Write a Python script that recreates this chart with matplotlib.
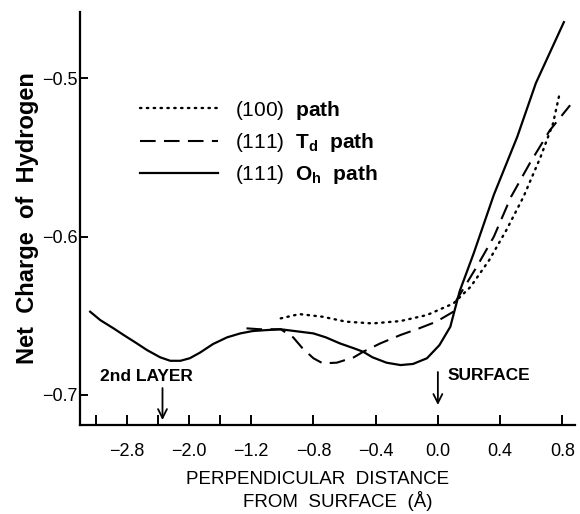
import numpy as np
import matplotlib
matplotlib.use("Agg")
import matplotlib.pyplot as plt

plt.rcParams['font.family'] = ['Liberation Sans', 'DejaVu Sans']
plt.rcParams['mathtext.fontset'] = 'custom'
plt.rcParams['mathtext.rm'] = 'Liberation Sans'
plt.rcParams['mathtext.bf'] = 'Liberation Sans:bold'
plt.rcParams['mathtext.it'] = 'Liberation Sans:italic'

# ---- data (perpendicular distance from surface in Angstrom, net charge) ----
oh_x = [-3.27, -3.14, -2.97, -2.84, -2.67, -2.54, -2.37, -2.24, -2.11, -1.99,
        -1.86, -1.69, -1.51, -1.34, -1.19, -1.10, -1.01, -0.80, -0.72, -0.63,
        -0.54, -0.48, -0.42, -0.33, -0.24, -0.16, -0.07, 0.01, 0.08, 0.14,
        0.23, 0.36, 0.51, 0.63, 0.81]
oh_y = [-0.6474, -0.6527, -0.6579, -0.6621, -0.6674, -0.6716, -0.6762, -0.6784,
        -0.6784, -0.6768, -0.6733, -0.6678, -0.6636, -0.6611, -0.6596, -0.6590,
        -0.6585, -0.6611, -0.6636, -0.6674, -0.6705, -0.6727, -0.6762, -0.6796,
        -0.6811, -0.6804, -0.6768, -0.6685, -0.6569, -0.6345, -0.6106, -0.5735,
        -0.5370, -0.5030, -0.4645]

td_x = [-1.26, -1.14, -1.01, -0.93, -0.87, -0.80, -0.74, -0.65, -0.54, -0.48,
        -0.37, -0.24, -0.12, -0.01, 0.10, 0.12, 0.25, 0.36, 0.47, 0.59, 0.72, 0.85]
td_y = [-0.6579, -0.6585, -0.6585, -0.6636, -0.6705, -0.6768, -0.6800, -0.6796,
        -0.6762, -0.6727, -0.6674, -0.6621, -0.6579, -0.6537, -0.6474, -0.6400,
        -0.6190, -0.6000, -0.5749, -0.5538, -0.5328, -0.5170]

p100_x = [-1.01, -0.89, -0.74, -0.59, -0.42, -0.24, -0.07, 0.10, 0.21, 0.33,
          0.44, 0.55, 0.66, 0.74, 0.78]
p100_y = [-0.6516, -0.6489, -0.6506, -0.6537, -0.6548, -0.6533, -0.6495, -0.6422,
          -0.6317, -0.6148, -0.5959, -0.5749, -0.5497, -0.5286, -0.5107]

labels = [r"(100)  $\mathbf{path}$",
          r"(111)  $\mathbf{T_d}$  $\mathbf{path}$",
          r"(111)  $\mathbf{O_h}$  $\mathbf{path}$"]

xticks_major = [-2.8, -2.0, -1.2, -0.8, -0.4, 0.0, 0.4, 0.8]
xticks_minor = [-3.2, -2.4, -1.6]
xtick_labels = ["\u22122.8", "\u22122.0", "\u22121.2", "\u22120.8", "\u22120.4", "0.0", "0.4", "0.8"]
yticks = [-0.7, -0.6, -0.5]
ytick_labels = ["\u22120.7", "\u22120.6", "\u22120.5"]

layer2_x = -2.34
surface_x = 0.0

BREAK = -1.2


def fwd(x):
    x = np.asarray(x, dtype=float)
    return np.where(x < BREAK, BREAK + (x - BREAK) / 2.0, x)


def inv(t):
    t = np.asarray(t, dtype=float)
    return np.where(t < BREAK, BREAK + (t - BREAK) * 2.0, t)


fig = plt.figure(figsize=(5.8, 5.14), dpi=100)
ax = fig.add_axes([0.138, 0.173, 0.853, 0.804])
ax.set_xscale('function', functions=(fwd, inv))

ax.plot(p100_x, p100_y, color='black', lw=1.7, linestyle=(0, (0.6, 2.3)),
        dash_capstyle='round', label=labels[0])
ax.plot(td_x, td_y, color='black', lw=1.5, linestyle=(0, (7.5, 4)), label=labels[1])
ax.plot(oh_x, oh_y, color='black', lw=1.6, label=labels[2])

ax.set_xlim(-3.4, 0.88)
ax.set_ylim(-0.719, -0.458)

ax.spines['top'].set_visible(False)
ax.spines['right'].set_visible(False)
ax.spines['left'].set_linewidth(1.6)
ax.spines['bottom'].set_linewidth(1.6)

ax.set_xticks(xticks_major)
ax.set_xticklabels(xtick_labels)
ax.set_xticks(xticks_minor, minor=True)
ax.set_yticks(yticks)
ax.set_yticklabels(ytick_labels)
ax.tick_params(axis='both', which='both', direction='in', width=1.4, labelsize=13)
ax.tick_params(axis='x', which='both', length=7, pad=13)
ax.tick_params(axis='y', which='both', length=6, pad=2)

ax.set_ylabel("Net  Charge  of  Hydrogen", fontsize=17, fontweight='bold', labelpad=2)

fig.text(0.548, 0.068, "PERPENDICULAR  DISTANCE", fontsize=13.5, ha='center', va='center')
fig.text(0.582, 0.025, "FROM  SURFACE  (\u00c5)", fontsize=13.5, ha='center', va='center')

leg = ax.legend(loc='upper left', bbox_to_anchor=(0.121, 0.79), frameon=False,
                fontsize=15, handlelength=3.75, handletextpad=0.8,
                labelspacing=0.45, borderpad=0, borderaxespad=0)

ax.annotate("", xy=(layer2_x, -0.7158), xytext=(layer2_x, -0.6956),
            arrowprops=dict(arrowstyle='->', lw=1.3, color='black',
                            shrinkA=0, shrinkB=0, mutation_scale=16))
ax.text(-2.55, -0.6886, "2nd LAYER", fontsize=12.5, fontweight='bold',
        ha='center', va='center')
ax.annotate("", xy=(surface_x, -0.7063), xytext=(surface_x, -0.6855),
            arrowprops=dict(arrowstyle='->', lw=1.3, color='black',
                            shrinkA=0, shrinkB=0, mutation_scale=16))
ax.text(0.06, -0.688, "SURFACE", fontsize=12.5, fontweight='bold',
        ha='left', va='center')

fig.savefig("out.png", dpi=100)
